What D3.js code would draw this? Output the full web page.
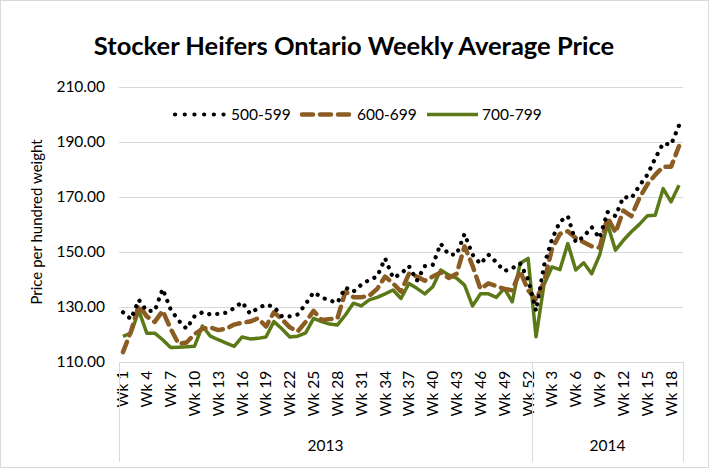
<!DOCTYPE html>
<html>
<head>
<meta charset="utf-8">
<script src="https://cdn.jsdelivr.net/npm/d3@7"></script>
<style>
  html, body { margin: 0; padding: 0; background: #fff; }
  svg { display: block; }
  text { font-family: Lato, "Open Sans", sans-serif; fill: #000; }
</style>
</head>
<body>
<svg id="chart" width="709" height="468"></svg>
<script>
const seriesNames = ["500-599", "600-699", "700-799"];
const years = ["2013", "2014"];
const weeks2013 = d3.range(1, 53).map(w => "Wk " + w);
const weeks2014 = d3.range(1, 20).map(w => "Wk " + w);
const yTicks = [110, 130, 150, 170, 190, 210];

const price500 = [
  128, 125.5, 132.5, 128.5, 128.5, 136.5, 129, 125, 122, 126.5,
  128, 127.2, 127.4, 127.8, 129.5, 131.7, 127.5, 129.5, 130.8, 130,
  126.5, 126.5, 127.2, 131, 135.3, 133.4, 132.3, 131.5, 137, 135.5,
  138, 139.8, 141, 147.6, 140.5, 142, 144.8, 139.5, 144.8, 145.2,
  153, 149, 149, 156.5, 149, 145.6, 149, 146.2, 143, 144,
  145.8, 140,
  128.5, 145, 154.5, 161, 163, 153.5, 155.5, 159, 155, 164.5,
  163, 170, 169.5, 174, 178, 184, 189.5, 189, 196
];
const price600 = [
  113.5, 121, 130.5, 126.5, 124.5, 128.5, 122, 116.5, 117, 120,
  122, 122.5, 121.5, 122, 123.5, 124.2, 124.6, 125.8, 122.8, 128,
  125.5, 122.5, 121, 124.5, 128.5, 125.2, 125.5, 125.8, 135.5, 133.5,
  133.5, 134, 136.5, 141, 138.5, 135.5, 142, 141, 139.5, 141,
  142.5, 140.5, 142, 152, 145, 136.5, 138.5, 137.5, 136.5, 136,
  143, 136,
  132.5, 139, 151, 156.5, 157.5, 155, 153.5, 152, 151.5, 162.5,
  157, 165, 163, 169.5, 174.5, 178, 181, 181, 188.5
];
const price700 = [
  119.2, 120.4, 128.6, 120.4, 120.4, 118, 115.2, 115.3, 115.4, 115.6,
  123, 119.3, 118, 116.8, 115.6, 119, 118.3, 118.5, 119, 124.6,
  122, 119, 119.3, 120.5, 125.8, 124.6, 123.7, 123.4, 127, 131.3,
  130.3, 132.5, 133.4, 134.7, 136.1, 133, 138.5, 136.7, 134.7, 137.3,
  143.4, 141.6, 140.4, 137.9, 130.3, 134.7, 134.7, 133.4, 136.7, 131.8,
  145.8, 147.6,
  119.1, 138, 144.5, 143.5, 153, 143.4, 146, 142, 148.8, 160,
  150.6, 154.2, 157.3, 160, 163.1, 163.3, 173, 168.2, 174.2
];

const categories = weeks2013.map((w, i) => ({key: i, week: w, year: years[0]}))
  .concat(weeks2014.map((w, i) => ({key: 52 + i, week: w, year: years[1]})));

const svg = d3.select("#chart");
const W = 709, H = 468;
const pL = 119, pR = 683, pT = 87, pB = 361.7;

svg.append("rect").attr("x", 0.5).attr("y", 0.5).attr("width", W - 1).attr("height", H - 1)
  .attr("fill", "#fff").attr("stroke", "#d9d9d9");

const x = d3.scaleBand().domain(categories.map(c => c.key)).range([pL, pR]).padding(0);
const y = d3.scaleLinear().domain([110, 210]).range([pB, pT]);
const cx = k => x(k) + x.bandwidth() / 2;

// gridlines
svg.append("g").selectAll("line").data(yTicks.slice(1)).join("line")
  .attr("x1", pL).attr("x2", pR)
  .attr("y1", d => Math.round(y(d)) + 0.5).attr("y2", d => Math.round(y(d)) + 0.5)
  .attr("stroke", "#d9d9d9").attr("stroke-width", 1);

// y axis labels
const yAxis = d3.axisLeft(y).tickValues(yTicks).tickFormat(d3.format(".2f")).tickSize(0).tickPadding(14);
const gy = svg.append("g").attr("transform", `translate(${pL},0)`).call(yAxis);
gy.select(".domain").remove();
gy.selectAll("text").attr("font-size", 15.5).attr("font-family", "Lato").attr("fill", "#000");

// x axis (category level)
const xTickKeys = categories.filter((c, i) => i % 3 === 0).map(c => c.key);
const xAxis = d3.axisBottom(x).tickValues(xTickKeys)
  .tickFormat(k => categories[k].week).tickSize(0).tickPadding(0);
const gx = svg.append("g").attr("transform", `translate(0,${pB})`).call(xAxis);
gx.select(".domain").remove();
gx.selectAll("text")
  .attr("font-size", 15.5).attr("font-family", "Lato").attr("fill", "#000")
  .attr("text-anchor", "end")
  .attr("transform", "rotate(-90)")
  .attr("x", -9).attr("y", 0).attr("dy", "0.35em");

// axis frame lines
const axisColor = "#d9d9d9";
svg.append("line").attr("x1", pL).attr("x2", pR).attr("y1", Math.round(pB) + 0.5).attr("y2", Math.round(pB) + 0.5)
  .attr("stroke", axisColor);
const yearBounds = [pL, x(52), pR];
svg.append("g").selectAll("line").data(yearBounds).join("line")
  .attr("x1", d => Math.round(d) + 0.5).attr("x2", d => Math.round(d) + 0.5)
  .attr("y1", Math.round(pB)).attr("y2", 462)
  .attr("stroke", axisColor);

// year labels
const yearCenters = [(pL + x(52)) / 2, (x(52) + pR) / 2];
svg.append("g").selectAll("text").data(years).join("text")
  .attr("x", (d, i) => yearCenters[i]).attr("y", 451)
  .attr("text-anchor", "middle").attr("font-size", 15.5).text(d => d);

// series
const styles = [
  {color: "#000000", width: 4.2, dash: "0.1 8", cap: "round"},
  {color: "#8c5d23", width: 4.5, dash: "11 7", cap: "round"},
  {color: "#5b7a17", width: 3.5, dash: null, cap: "butt"}
];
const allSeries = [price500, price600, price700];
const line = d3.line().x((d, i) => cx(categories[i].key)).y(d => y(d));
const gs = svg.append("g");
[2, 1, 0].forEach(s => {
  gs.append("path").datum(allSeries[s])
    .attr("d", line)
    .attr("fill", "none")
    .attr("stroke", styles[s].color)
    .attr("stroke-width", styles[s].width)
    .attr("stroke-linecap", styles[s].cap)
    .attr("stroke-linejoin", "round")
    .attr("stroke-dasharray", styles[s].dash);
});

// legend
const legendItems = [
  {x1: 175, x2: 224, tx: 231},
  {x1: 302, x2: 350, tx: 357},
  {x1: 427, x2: 478, tx: 482}
];
const lg = svg.append("g");
seriesNames.forEach((n, i) => {
  const it = legendItems[i];
  lg.append("line").attr("x1", it.x1).attr("x2", it.x2).attr("y1", 114.5).attr("y2", 114.5)
    .attr("stroke", styles[i].color).attr("stroke-width", styles[i].width)
    .attr("stroke-linecap", styles[i].cap).attr("stroke-dasharray", i === 0 ? "0.1 9.6" : (i === 1 ? "11 7" : null));
  lg.append("text").attr("x", it.tx).attr("y", 114.5).attr("dy", "0.35em")
    .attr("font-size", 15.5).text(n);
});

// y axis title
svg.append("text")
  .attr("transform", "translate(37,222) rotate(-90)")
  .attr("text-anchor", "middle").attr("dy", "0.35em")
  .attr("font-size", 15).text("Price per hundred weight");

// title
svg.append("text").attr("x", 354).attr("y", 55).attr("text-anchor", "middle")
  .attr("font-size", 25.5).attr("font-weight", "bold").text("Stocker Heifers Ontario Weekly Average Price");
</script>
</body>
</html>
